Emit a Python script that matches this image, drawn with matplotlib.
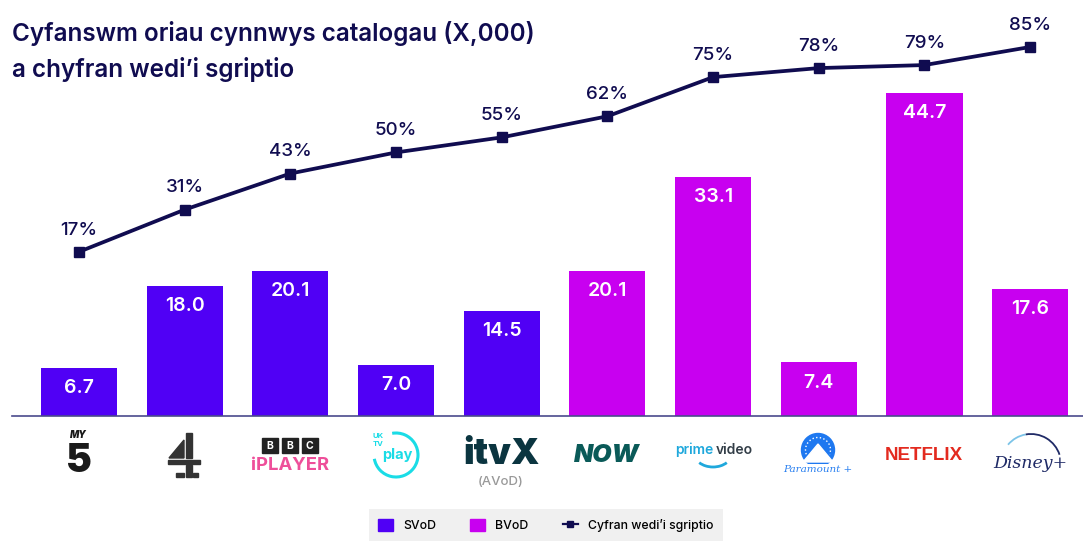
#!/usr/bin/env python3
import matplotlib
matplotlib.use('Agg')
import matplotlib.pyplot as plt
from matplotlib.patches import Arc, Circle, Polygon, Rectangle
from matplotlib.lines import Line2D

plt.rcParams['font.family'] = ['Inter', 'DejaVu Sans']

# Data
services = ['My5', 'Channel 4', 'BBC iPlayer', 'UKTV Play', 'ITVX',
            'NOW', 'Prime Video', 'Paramount+', 'Netflix', 'Disney+']
hours = [6.7, 18.0, 20.1, 7.0, 14.5, 20.1, 33.1, 7.4, 44.7, 17.6]
scripted = [17, 31, 43, 50, 55, 62, 75, 78, 79, 85]
n_svod = 5

SVOD = '#5000F5'
BVOD = '#C800F0'
NAVY = '#100C50'
W, H = 1083, 541

fig = plt.figure(figsize=(W / 100, H / 100), dpi=100, facecolor='white')
ax = fig.add_axes([12 / W, (H - 416) / H, (W - 12) / W, 416 / H])
ax2 = ax.twinx()
ax2.set_position(ax.get_position())

# Bars
x = list(range(len(services)))
colors = [SVOD] * n_svod + [BVOD] * (len(services) - n_svod)
bars = ax.bar(x, hours, width=0.72, color=colors, zorder=2)
ax.set_xlim(-0.634, 9.5)
ax.set_ylim(0, 57.5)
for i, v in enumerate(hours):
    ax.annotate(f'{v:.1f}', (i, v), xytext=(0, -8), textcoords='offset points',
                ha='center', va='top', color='white', fontsize=14, fontweight='semibold')

# Line
line, = ax2.plot(x, scripted, color=NAVY, linewidth=2.7, marker='s', markersize=7.5, zorder=3)
ax2.set_ylim(-37.5, 100.6)
for i, v in enumerate(scripted):
    ax2.annotate(f'{v}%', (i, v), xytext=(0, 9.5), textcoords='offset points',
                 ha='center', va='bottom', color=NAVY, fontsize=13.5, fontweight='medium')

for a in (ax, ax2):
    a.set_yticks([])
    a.set_xticks([])
    a.patch.set_visible(False)
    for s in ('top', 'left', 'right'):
        a.spines[s].set_visible(False)
ax.spines['bottom'].set_color('#4A4A8C')
ax.spines['bottom'].set_linewidth(1.2)
ax2.spines['bottom'].set_visible(False)

# Overlay in pixels for the title and the logos
ov = fig.add_axes([0, 0, 1, 1], facecolor='none')
ov.set_xlim(0, W)
ov.set_ylim(H, 0)
ov.axis('off')

ov.text(12, 34, 'Cyfanswm oriau cynnwys catalogau (X,000)', fontsize=17.5,
        fontweight='semibold', color=NAVY, ha='left', va='center')
ov.text(12, 70, 'a chyfran wedi’i sgriptio', fontsize=17.5,
        fontweight='semibold', color=NAVY, ha='left', va='center')

# My5
ov.text(78, 435.5, 'MY', fontsize=7, fontweight='black', style='italic',
        color='#1a1a1a', ha='center', va='center')
ov.text(79, 461, '5', fontsize=28, fontweight='black', color='#1a1a1a', ha='center', va='center')

# Channel 4
C4 = '#333333'
ov.add_patch(Polygon([[169, 458], [184, 440], [184, 458]], color=C4))
ov.add_patch(Rectangle((186, 433), 6, 25, color=C4))
ov.add_patch(Rectangle((168, 460), 32, 4, color=C4))
ov.add_patch(Rectangle((186, 465), 6, 12, color=C4))
ov.add_patch(Rectangle((176, 473), 8, 4, color=C4))
ov.add_patch(Rectangle((193, 473), 5, 4, color=C4))

# BBC iPlayer
for bx, ch in zip((262, 282, 302), 'BBC'):
    ov.add_patch(Rectangle((bx, 438), 15.5, 15, color='#222222'))
    ov.text(bx + 7.7, 445.8, ch, fontsize=7.5, fontweight='bold', color='white',
            ha='center', va='center')
ov.text(290, 466, 'iPLAYER', fontsize=13.3, fontweight='bold', color='#EE4F9A',
        ha='center', va='center')

# UKTV Play
ov.add_patch(Arc((396, 455), 44, 44, theta1=-100, theta2=170, color='#1ADCE6', linewidth=2.2))
ov.text(397, 455, 'play', fontsize=10.5, fontweight='bold', color='#1ADCE6', ha='center', va='center')
ov.text(378, 436, 'UK', fontsize=5.5, fontweight='bold', color='#1ADCE6', ha='center', va='center')
ov.text(378, 444, 'TV', fontsize=5.5, fontweight='bold', color='#1ADCE6', ha='center', va='center')

# ITVX
ov.text(501, 455, 'itvX', fontsize=26, fontweight='black', color='#0B3540', ha='center', va='center')
ov.text(501, 482, '(AVoD)', fontsize=9.5, fontweight='medium', color='#999999', ha='center', va='center')

# NOW
ov.text(607, 455, 'NOW', fontsize=18, fontweight='black', style='italic', color='#0A5A58',
        ha='center', va='center')

# Prime Video
ov.text(675, 450, 'prime', fontsize=10, fontweight='semibold', color='#1FA8DC', ha='left', va='center')
ov.text(716, 450, 'video', fontsize=10, fontweight='semibold', color='#333E48', ha='left', va='center')
ov.add_patch(Arc((713, 453), 38, 28, theta1=35, theta2=145, color='#1FA8DC', linewidth=2))

# Paramount+
ov.add_patch(Circle((818, 450), 16.5, color='#1E78F0'))
ov.add_patch(Arc((818, 450), 25, 25, theta1=160, theta2=380, color='white', linewidth=1, linestyle=':'))
ov.add_patch(Polygon([[803, 462], [818, 444], [833, 462]], color='white'))
ov.text(818, 469, 'Paramount +', fontsize=7.5, style='italic', family='DejaVu Serif',
        color='#2A80F0', ha='center', va='center',
        bbox=dict(facecolor='white', edgecolor='none', pad=0.5))

# Netflix
ov.text(924, 455, 'NETFLIX', fontsize=13.5, fontweight='bold', color='#E32A1F', ha='center', va='center',
        family='Liberation Sans')

# Disney+
ov.add_patch(Arc((1031, 464), 60, 60, theta1=-140, theta2=-100, color='#7CC4E8', linewidth=1.3))
ov.add_patch(Arc((1031, 464), 60, 60, theta1=-100, theta2=-18, color='#1F2A66', linewidth=1.3))
ov.text(1030, 464, 'Disney+', fontsize=12.5, style='italic', family='DejaVu Serif', color='#1F2A66',
        ha='center', va='center')

# Legend
handles = [Rectangle((0, 0), 1, 1, color=SVOD), Rectangle((0, 0), 1, 1, color=BVOD),
           Line2D([], [], color=NAVY, linewidth=1.6, marker='s', markersize=4.5)]
leg = fig.legend(handles, ['SVoD', 'BVoD', 'Cyfran wedi’i sgriptio'], ncol=3,
                 loc='lower left', bbox_to_anchor=(369 / W, 0), frameon=True, facecolor='#F0F0F0',
                 edgecolor='none', fancybox=False, framealpha=1,
                 handlelength=1.22, handleheight=1.14, columnspacing=2.8, handletextpad=0.8,
                 borderaxespad=0, borderpad=0.75, prop=dict(size=8.85, weight='medium'))

fig.savefig('out.png', dpi=100)
